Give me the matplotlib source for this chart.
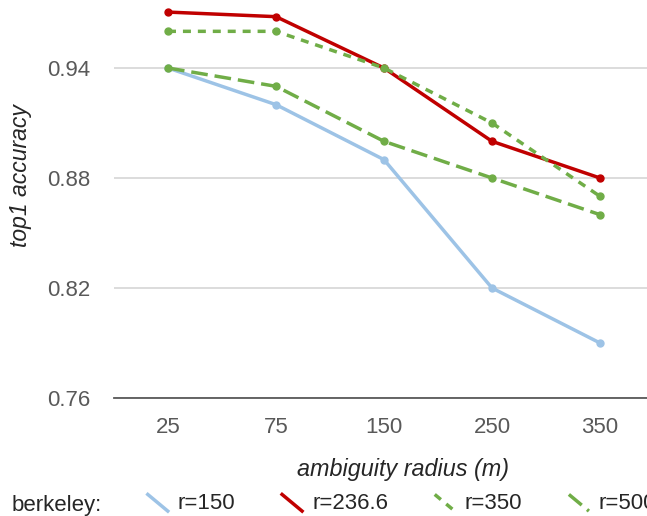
import matplotlib
matplotlib.use("Agg")
import matplotlib.pyplot as plt
from matplotlib.lines import Line2D
from matplotlib.legend_handler import HandlerBase

radius = ["25", "75", "150", "250", "350"]
r150 = [0.940, 0.920, 0.890, 0.820, 0.790]
r236 = [0.9705, 0.968, 0.940, 0.900, 0.880]
r350 = [0.960, 0.960, 0.940, 0.910, 0.870]
r500 = [0.940, 0.930, 0.900, 0.880, 0.860]
yticks = [0.76, 0.82, 0.88, 0.94]

plt.rcParams["font.family"] = ["Liberation Sans", "DejaVu Sans"]
grey = "#595959"


class DiagHandler(HandlerBase):
    # short diagonal legend keys, like the office chart
    def create_artists(self, legend, orig_handle, xdescent, ydescent,
                       width, height, fontsize, trans):
        x0 = -xdescent
        y0 = -ydescent
        l = Line2D([x0, x0 + width], [y0 + height * 0.95, y0 - height * 0.12])
        l.update_from(orig_handle)
        l.set_marker("")
        l.set_transform(trans)
        return [l]


fig = plt.figure(figsize=(6.47, 5.16), dpi=100)
ax = fig.add_axes([114 / 647, 118 / 516, 540 / 647, 398 / 516])

x = list(range(len(radius)))
kw = dict(marker="o", markersize=5, lw=2.5)
h1, = ax.plot(x, r150, color="#9dc3e6", label="r=150", **kw)
h2, = ax.plot(x, r236, color="#c00000", label="r=236.6", **kw)
h3, = ax.plot(x, r350, color="#70ad47", label="r=350", dashes=(2.3, 2.0), **kw)
h4, = ax.plot(x, r500, color="#70ad47", label="r=500", dashes=(4.8, 2.0), **kw)
for h in (h1, h2, h3, h4):
    h.set_clip_on(False)

ax.set_xlim(-0.5, 4.5)
ax.set_ylim(0.76, 0.76 + 398 / 110 * 0.06)
ax.set_xticks(x)
ax.set_xticklabels(radius)
ax.set_yticks(yticks)
ax.set_yticklabels(["%.2f" % v for v in yticks])
ax.tick_params(length=0, labelsize=16, colors=grey)
ax.tick_params(axis="y", pad=17)
ax.tick_params(axis="x", pad=14)
ax.yaxis.grid(True, color="#d9d9d9", lw=1.3)
ax.set_axisbelow(True)
for s in ["top", "right", "left"]:
    ax.spines[s].set_visible(False)
ax.spines["bottom"].set_color(grey)
ax.spines["bottom"].set_linewidth(1.3)

ax.set_ylabel("top1 accuracy", fontsize=16.5, style="italic", color="#262626")
ax.yaxis.set_label_coords(-0.152, 0.558)
ax.set_xlabel("ambiguity radius (m)", fontsize=16.8, style="italic", color="#262626")
ax.xaxis.set_label_coords(0.536, -0.152)

fig.text(12 / 647, 5 / 516, "berkeley:", fontsize=16, color="#262626", va="baseline")
fig.legend(handles=[h1, h2, h3, h4], handler_map={Line2D: DiagHandler()},
           loc="lower left", bbox_to_anchor=(130 / 647, -0.031), ncol=4,
           frameon=False, fontsize=16, handlelength=0.9, handletextpad=0.45,
           columnspacing=2.1, labelcolor="#262626", borderpad=0.3)

fig.savefig("out.png", dpi=100)
